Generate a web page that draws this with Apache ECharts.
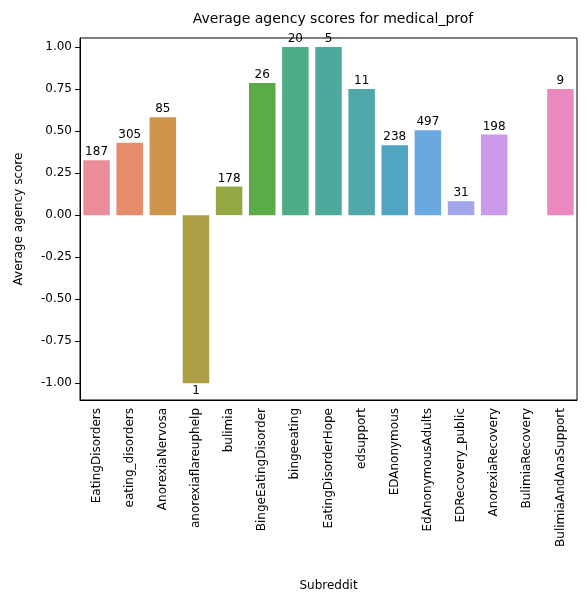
<!DOCTYPE html>
<html><head><meta charset="utf-8">
<script src="https://cdn.jsdelivr.net/npm/echarts@6/dist/echarts.min.js"></script>
<style>html,body{margin:0;padding:0;background:#fff}#main{width:587px;height:600px}</style>
</head><body><div id="main"></div>
<script>
var categories = ["EatingDisorders","eating_disorders","AnorexiaNervosa","anorexiaflareuphelp","bulimia","BingeEatingDisorder","bingeeating","EatingDisorderHope","edsupport","EDAnonymous","EdAnonymousAdults","EDRecovery_public","AnorexiaRecovery","BulimiaRecovery","BulimiaAndAnaSupport"];
var scores = [0.327, 0.43, 0.583, -1.0, 0.17, 0.786, 1.0, 1.0, 0.75, 0.416, 0.505, 0.083, 0.48, 0, 0.75];
var counts = ["187","305","85","1","178","26","20","5","11","238","497","31","198","","9"];
var colors = ["#ea8d98","#e48c6c","#cf954b","#ae9f45","#94a843","#5bab48","#4dac86","#4ea99d","#50a7ab","#50a6c2","#6aa9e0","#a3a6ea","#cb98ea","#e48ad9","#ea89c0"];
var yTicks = [-1, -0.75, -0.5, -0.25, 0, 0.25, 0.5, 0.75, 1];

var chart = echarts.init(document.getElementById("main"));
chart.setOption({
  animation: false,
  title: { text: "Average agency scores for medical_prof", left: 328, top: 7, textAlign: "center",
    textStyle: { fontFamily: "DejaVu Sans", fontSize: 14, fontWeight: "normal", color: "#000" } },
  grid: { left: 80, right: 10, top: 38, bottom: 200, show: true, borderColor: "#000", borderWidth: 1 },
  xAxis: {
    type: "category", data: categories, name: "Subreddit", nameLocation: "middle", nameGap: 180,
    nameTextStyle: { fontFamily: "DejaVu Sans", fontSize: 12, color: "#000" },
    axisLine: { onZero: false, lineStyle: { color: "#000" } },
    axisTick: { alignWithLabel: true, lineStyle: { color: "#000" } },
    axisLabel: { rotate: 90, interval: 0, fontFamily: "DejaVu Sans", fontSize: 12, color: "#000" }
  },
  yAxis: {
    type: "value", min: -1.1, max: 1.054, name: "Average agency score", nameLocation: "middle", nameGap: 55,
    nameTextStyle: { fontFamily: "DejaVu Sans", fontSize: 12, color: "#000" },
    splitLine: { show: false },
    axisLine: { show: true, lineStyle: { color: "#000" } },
    axisTick: { show: true, customValues: yTicks, lineStyle: { color: "#000" } },
    axisLabel: { customValues: yTicks, fontFamily: "DejaVu Sans", fontSize: 12, color: "#000",
      formatter: function (v) { return v.toFixed(2); } }
  },
  series: [{
    type: "bar", barCategoryGap: "20%",
    data: scores.map(function (v, i) {
      return { value: v, itemStyle: { color: colors[i] },
        label: { show: counts[i] !== "", position: v < 0 ? "bottom" : "top", distance: 2,
          formatter: counts[i], fontFamily: "DejaVu Sans", fontSize: 12, color: "#000" } };
    })
  }]
});
</script></body></html>
